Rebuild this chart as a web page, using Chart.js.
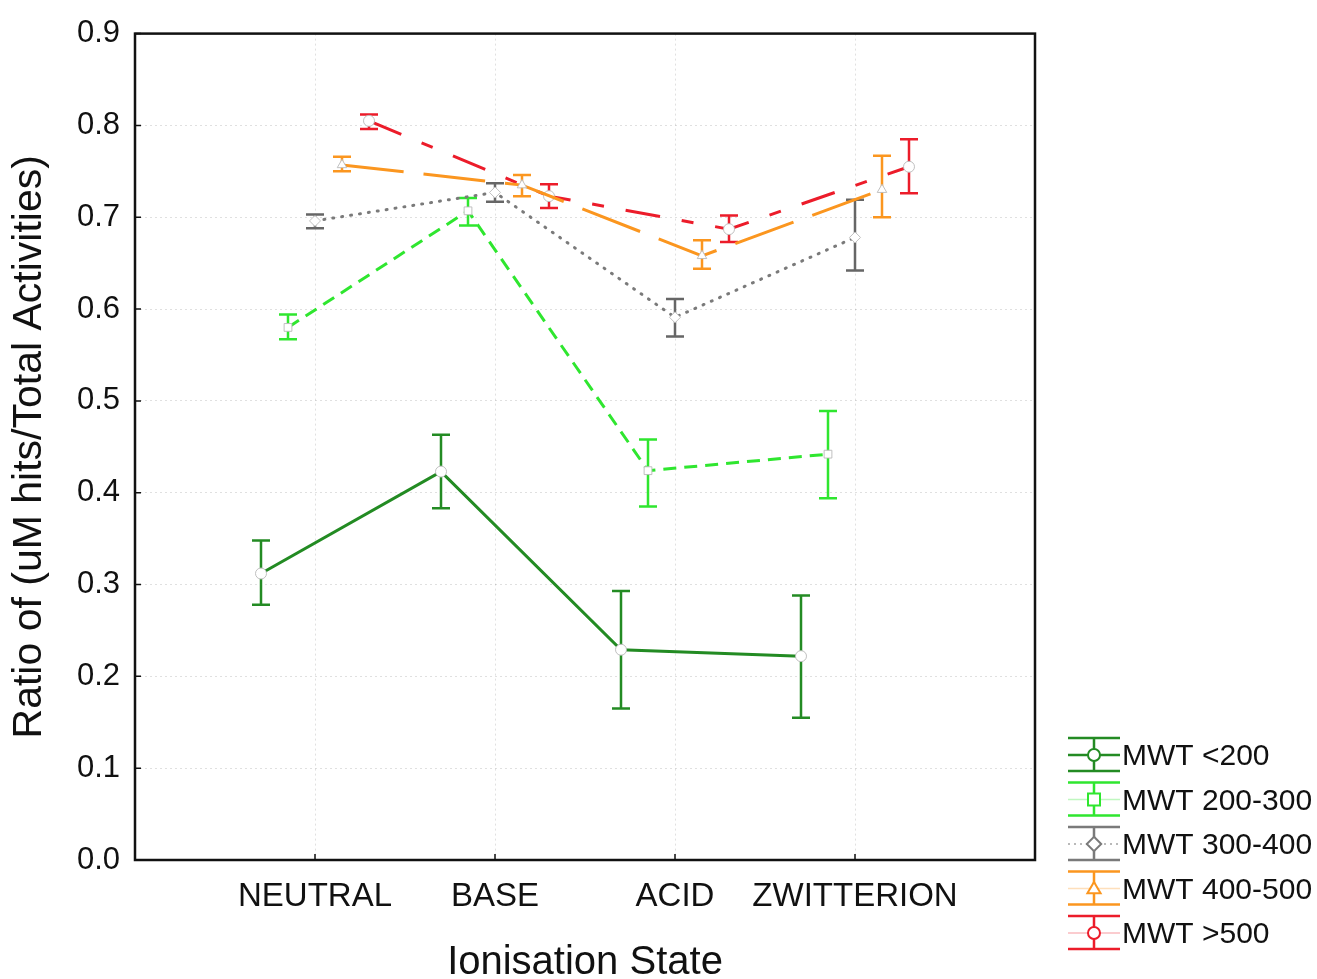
<!DOCTYPE html>
<html>
<head>
<meta charset="utf-8">
<title>Ratio by Ionisation State</title>
<script src="https://cdn.jsdelivr.net/npm/chart.js@4.4.0/dist/chart.umd.min.js"></script>
<style>
	html, body { margin: 0; padding: 0; background: #fff; }
	canvas { display: block; }
</style>
</head>
<body>
<canvas id="ratioChart" width="1317" height="979"></canvas>
<script>
// categories and tick labels
const categories = ['NEUTRAL', 'BASE', 'ACID', 'ZWITTERION'];
const yTicks = [0, 0.1, 0.2, 0.3, 0.4, 0.5, 0.6, 0.7, 0.8, 0.9];
const seriesLabels = ['MWT <200', 'MWT 200-300', 'MWT 300-400', 'MWT 400-500', 'MWT >500'];

// means and error limits
const mwt200 = [0.312, 0.423, 0.229, 0.222];
const mwt200Low = [0.278, 0.383, 0.165, 0.155];
const mwt200High = [0.348, 0.463, 0.293, 0.288];

const mwt300 = [0.580, 0.707, 0.424, 0.442];
const mwt300Low = [0.567, 0.691, 0.385, 0.394];
const mwt300High = [0.594, 0.721, 0.458, 0.489];

const mwt400 = [0.696, 0.727, 0.591, 0.678];
const mwt400Low = [0.688, 0.717, 0.570, 0.642];
const mwt400High = [0.703, 0.737, 0.611, 0.719];

const mwt500 = [0.757, 0.735, 0.658, 0.730];
const mwt500Low = [0.750, 0.723, 0.644, 0.700];
const mwt500High = [0.766, 0.746, 0.675, 0.767];

const mwtOver500 = [0.805, 0.723, 0.687, 0.755];
const mwtOver500Low = [0.796, 0.710, 0.673, 0.726];
const mwtOver500High = [0.812, 0.736, 0.702, 0.785];

const FONT = "'Liberation Sans', Arial, sans-serif";

// look of each series (shift = horizontal offset from the category)
const series = [
	{ mean: mwt200, low: mwt200Low, high: mwt200High, color: '#238b23', dash: [], width: 3, shape: 'circle', shift: -0.3 },
	{ mean: mwt300, low: mwt300Low, high: mwt300High, color: '#2fe62f', dash: [13, 8], width: 3, shape: 'rect', shift: -0.15 },
	{ mean: mwt400, low: mwt400Low, high: mwt400High, color: '#7a7a7a', dash: [1, 8], width: 3, shape: 'rectRot', shift: 0, bar: '#666666', cap: 'round', dotted: true },
	{ mean: mwt500, low: mwt500Low, high: mwt500High, color: '#fb961f', dash: [62, 20], width: 3, shape: 'triangle', shift: 0.15 },
	{ mean: mwtOver500, low: mwtOver500Low, high: mwtOver500High, color: '#ec1c2a', dash: [35, 22, 12, 22], width: 3, shape: 'circle', shift: 0.3 }
];

function drawMarker(ctx, shape, x, y, r) {
	ctx.beginPath();
	if (shape === 'rect') {
		ctx.rect(x - r, y - r, r * 2, r * 2);
	} else if (shape === 'rectRot') {
		ctx.moveTo(x, y - r * 1.2);
		ctx.lineTo(x + r * 1.2, y);
		ctx.lineTo(x, y + r * 1.2);
		ctx.lineTo(x - r * 1.2, y);
		ctx.closePath();
	} else if (shape === 'triangle') {
		ctx.moveTo(x, y - r * 1.1);
		ctx.lineTo(x + r * 1.1, y + r * 0.8);
		ctx.lineTo(x - r * 1.1, y + r * 0.8);
		ctx.closePath();
	} else {
		ctx.arc(x, y, r, 0, Math.PI * 2);
	}
	ctx.fill();
	ctx.stroke();
}

const errorBars = {
	id: 'errorBars',
	beforeDatasetsDraw(chart) {
		const { ctx, scales: { x, y } } = chart;
		chart.data.datasets.forEach((ds) => {
			ctx.save();
			ctx.strokeStyle = ds.barColor;
			ctx.lineWidth = 2.5;
			ds.data.forEach((p) => {
				const px = x.getPixelForValue(p.x);
				const top = y.getPixelForValue(p.hi);
				const bot = y.getPixelForValue(p.lo);
				ctx.beginPath();
				ctx.moveTo(px, top);
				ctx.lineTo(px, bot);
				ctx.moveTo(px - 9, top);
				ctx.lineTo(px + 9, top);
				ctx.moveTo(px - 9, bot);
				ctx.lineTo(px + 9, bot);
				ctx.stroke();
			});
			ctx.restore();
		});
	}
};

const frame = {
	id: 'frame',
	afterDraw(chart) {
		const { ctx, chartArea: a, scales: { x, y } } = chart;
		ctx.save();
		ctx.strokeStyle = '#111';
		ctx.lineWidth = 2.5;
		ctx.strokeRect(a.left, a.top, a.width, a.height);
		ctx.lineWidth = 1.5;
		ctx.beginPath();
		categories.forEach((c, i) => {
			const px = x.getPixelForValue(i);
			ctx.moveTo(px, a.bottom);
			ctx.lineTo(px, a.bottom - 6);
		});
		yTicks.forEach((v) => {
			const py = y.getPixelForValue(v);
			ctx.moveTo(a.left, py);
			ctx.lineTo(a.left + 6, py);
		});
		ctx.stroke();
		ctx.restore();
	}
};

// legend sits in the lower right corner, outside the plot
const sideLegend = {
	id: 'sideLegend',
	afterDraw(chart) {
		const { ctx, chartArea: a } = chart;
		const left = a.right + 33;
		const w = 52;
		const rowH = 44.5;
		const y0 = a.bottom - 105;
		ctx.save();
		chart.data.datasets.forEach((ds, i) => {
			const s = series[i];
			const cy = y0 + i * rowH;
			const cx = left + w / 2;
			ctx.strokeStyle = s.color;
			ctx.setLineDash([]);
			ctx.lineWidth = 2.5;
			ctx.beginPath();
			ctx.moveTo(left, cy - 17);
			ctx.lineTo(left + w, cy - 17);
			ctx.moveTo(left, cy + 16);
			ctx.lineTo(left + w, cy + 16);
			ctx.moveTo(cx, cy - 17);
			ctx.lineTo(cx, cy + 16);
			ctx.stroke();
			// the series line style through the middle
			ctx.save();
			if (s.dotted) {
				ctx.globalAlpha = 0.7;
				ctx.setLineDash([2, 4]);
				ctx.lineWidth = 1.5;
			} else if (s.dash.length) {
				ctx.globalAlpha = 0.3;
				ctx.lineWidth = 1.5;
			}
			ctx.beginPath();
			ctx.moveTo(left, cy);
			ctx.lineTo(left + w, cy);
			ctx.stroke();
			ctx.restore();
			ctx.fillStyle = '#fff';
			ctx.lineWidth = 2;
			drawMarker(ctx, s.shape, cx, cy, 6);
			ctx.fillStyle = '#111';
			ctx.font = '30px ' + FONT;
			ctx.textBaseline = 'middle';
			ctx.textAlign = 'left';
			ctx.fillText(ds.label, left + w + 2, cy + 2);
		});
		ctx.restore();
	}
};

function chartInit(canvas) {
	const ctx = document.getElementById(canvas);
	if (!ctx) {
		return;
	}

	const datasets = series.map((s, i) => ({
		label: seriesLabels[i],
		data: s.mean.map((v, j) => ({ x: j + s.shift, y: v, lo: s.low[j], hi: s.high[j] })),
		borderColor: s.color,
		borderWidth: s.width,
		borderDash: s.dash,
		borderCapStyle: s.cap || 'butt',
		barColor: s.bar || s.color,
		fill: false,
		tension: 0,
		pointStyle: s.shape,
		pointRadius: 5.5,
		pointBackgroundColor: '#fff',
		pointBorderColor: 'rgba(185,185,185,0.9)',
		pointBorderWidth: 1
	}));

	new Chart(ctx, {
		type: 'line',
		data: { datasets: datasets },
		plugins: [errorBars, frame, sideLegend],
		options: {
			responsive: false,
			animation: false,
			layout: {
				padding: { top: 30, right: 282, left: 0, bottom: 0 }
			},
			plugins: {
				legend: { display: false },
				tooltip: { enabled: false }
			},
			scales: {
				x: {
					type: 'linear',
					min: -1,
					max: 4,
					afterFit: function(scale) {
						scale.height = 119;
					},
					ticks: {
						stepSize: 1,
						autoSkip: false,
						maxRotation: 0,
						padding: 17,
						color: '#111',
						font: { family: FONT, size: 33 },
						callback: function(value) {
							return Number.isInteger(value) && categories[value] ? categories[value] : '';
						}
					},
					grid: { color: 'rgba(0,0,0,0.12)', drawTicks: false },
					border: { display: false, dash: [2, 3] },
					title: {
						display: true,
						text: 'Ionisation State',
						color: '#111',
						font: { family: FONT, size: 40 },
						padding: { top: 0, bottom: -8 }
					}
				},
				y: {
					min: 0,
					max: 0.9,
					afterFit: function(scale) {
						scale.width = 135;
					},
					ticks: {
						stepSize: 0.1,
						padding: 15,
						color: '#111',
						font: { family: FONT, size: 31 },
						callback: function(value) {
							return value.toFixed(1);
						}
					},
					grid: { color: 'rgba(0,0,0,0.12)', drawTicks: false },
					border: { display: false, dash: [2, 3] },
					title: {
						display: true,
						text: 'Ratio of (uM hits/Total Activities)',
						color: '#111',
						font: { family: FONT, size: 41 },
						padding: { top: 5, bottom: 0 }
					}
				}
			}
		}
	});
}

chartInit('ratioChart');
</script>
</body>
</html>
